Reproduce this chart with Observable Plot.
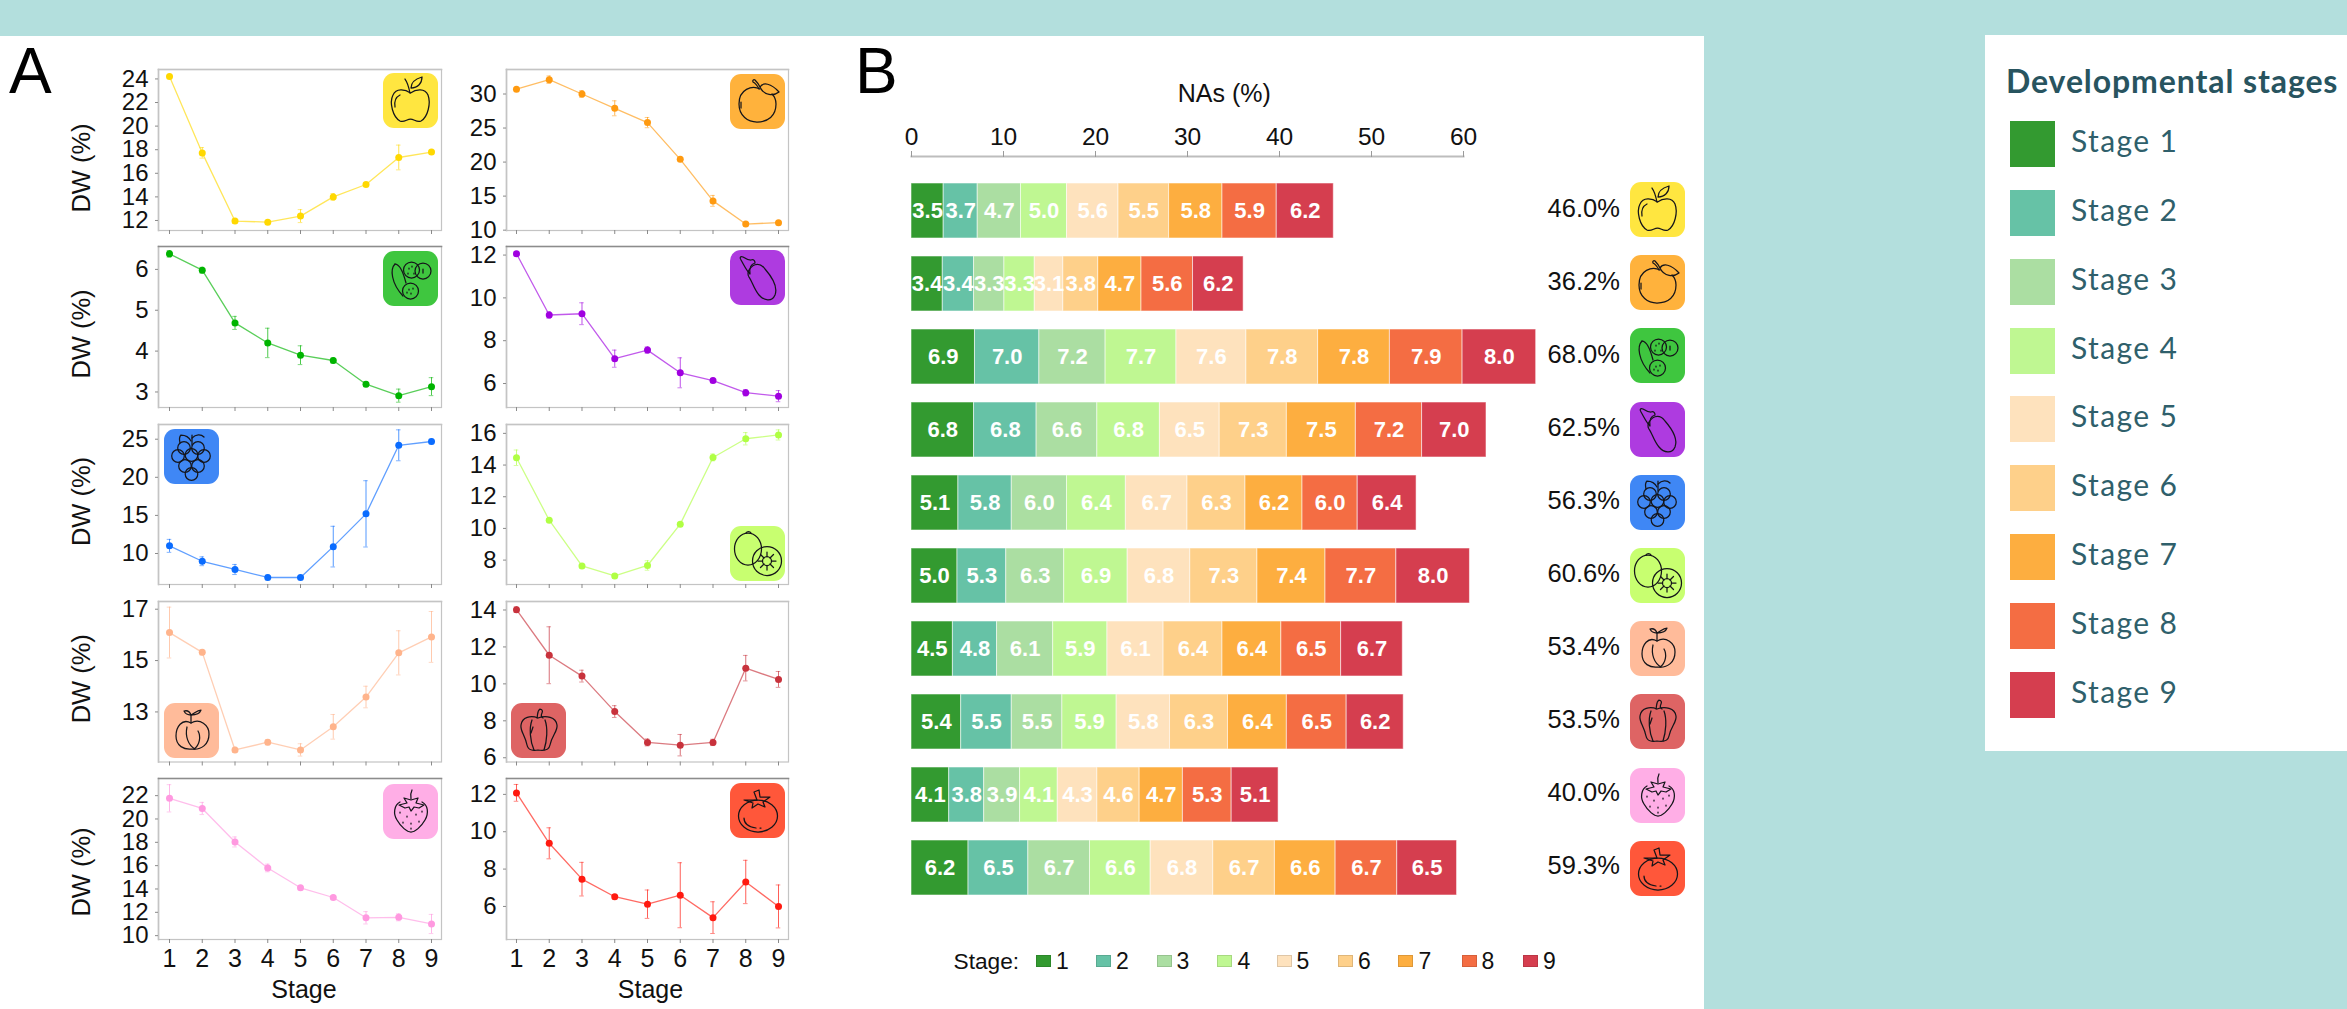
<!DOCTYPE html>
<html>
<head>
<meta charset="utf-8">
<script src="https://cdn.jsdelivr.net/npm/d3@7"></script>
<script src="https://cdn.jsdelivr.net/npm/@observablehq/plot@0.6"></script>
<style>
html,body{margin:0;padding:0;width:2347px;height:1009px;overflow:hidden;background:#b3dfdd;font-family:"Liberation Sans",Arial,sans-serif;}
#page{position:relative;width:2347px;height:1009px;overflow:hidden;}
.abs{position:absolute;}
svg{overflow:visible;}
</style>
</head>
<body>
<div id="page"></div>
<script>
// ---------- Shared categories ----------
const stages = [1,2,3,4,5,6,7,8,9];
const stageColors = ["#339a30","#66c2a6","#abdea2","#bff792","#fee2bd","#fed08a","#fdae40","#f46d43","#d53e4f"];
const fruits = ["Apple","Orange","Cucumber","Eggplant","Grape","Kiwi","Peach","Pepper","Strawberry","Tomato"];

// ---------- Panel A: dry weight (%) mean and error per stage ----------
const dwApple = [24.2,17.73,11.95,11.86,12.37,14.0,15.05,17.34,17.8];
const errApple = [0.1,0.45,0.2,0.15,0.55,0.28,0.15,1.05,0.15];
const dwOrange = [30.7,32.1,30.0,27.9,25.8,20.4,14.3,10.9,11.1];
const errOrange = [0.2,0.55,0.5,1.1,0.75,0.15,0.8,0.2,0.15];
const dwCucumber = [6.38,5.98,4.69,4.2,3.9,3.77,3.19,2.91,3.13];
const errCucumber = [0.08,0.07,0.16,0.36,0.23,0.06,0.06,0.16,0.22];
const dwEggplant = [12.06,9.2,9.26,7.16,7.56,6.5,6.14,5.57,5.41];
const errEggplant = [0.1,0.15,0.51,0.4,0.15,0.7,0.1,0.15,0.26];
const dwGrape = [11.0,8.98,7.9,6.85,6.85,10.9,15.2,24.2,24.7];
const errGrape = [0.85,0.58,0.66,0.3,0.1,2.67,4.35,2.03,0.3];
const dwKiwi = [14.46,10.52,7.63,7.0,7.66,10.27,14.48,15.66,15.9];
const errKiwi = [0.49,0.1,0.12,0.15,0.3,0.1,0.22,0.39,0.32];
const dwPeach = [16.09,15.32,11.52,11.82,11.52,12.42,13.58,15.3,15.92];
const errPeach = [0.99,0.1,0.1,0.1,0.24,0.48,0.42,0.86,0.99];
const dwPepper = [14.02,11.55,10.42,8.5,6.83,6.68,6.83,10.85,10.24];
const errPepper = [0.15,1.54,0.32,0.32,0.19,0.58,0.17,0.69,0.43];
const dwStrawberry = [21.77,20.9,18.03,15.8,14.1,13.27,11.53,11.57,11.0];
const errStrawberry = [1.17,0.52,0.43,0.33,0.15,0.15,0.53,0.3,0.82];
const dwTomato = [12.08,9.38,7.46,6.52,6.12,6.6,5.4,7.31,6.0];
const errTomato = [0.45,0.83,0.9,0.12,0.76,1.74,0.85,1.16,1.15];

// ---------- Panel B: NAs (%) per stage ----------
const naApple = [3.5,3.7,4.7,5.0,5.6,5.5,5.8,5.9,6.2];
const naOrange = [3.4,3.4,3.3,3.3,3.1,3.8,4.7,5.6,5.5];
const naCucumber = [6.9,7.0,7.2,7.7,7.6,7.8,7.8,7.9,8.0];
const naEggplant = [6.8,6.8,6.6,6.8,6.5,7.3,7.5,7.2,7.0];
const naGrape = [5.1,5.8,6.0,6.4,6.7,6.3,6.2,6.0,6.4];
const naKiwi = [5.0,5.3,6.3,6.9,6.8,7.3,7.4,7.7,8.0];
const naPeach = [4.5,4.8,6.1,5.9,6.1,6.4,6.4,6.5,6.7];
const naPepper = [5.4,5.5,5.5,5.9,5.8,6.3,6.4,6.5,6.2];
const naStrawberry = [4.1,3.8,3.9,4.1,4.3,4.6,4.7,5.3,5.1];
const naTomato = [6.2,6.5,6.7,6.6,6.8,6.7,6.6,6.7,6.5];
const naLabelOrange = [3.4,3.4,3.3,3.3,3.1,3.8,4.7,5.6,6.2]; // the printed labels in the orange row
const naTotals = [46.0,36.2,68.0,62.5,56.3,60.6,53.4,53.5,40.0,59.3];

// ---------- Line-drawn fruit icons, 55×55 ----------
const iconBg = {Apple:"#ffe640",Orange:"#ffb23c",Cucumber:"#3fc63f",Eggplant:"#ae3be0",Grape:"#3f87f5",Kiwi:"#c8ff70",Peach:"#ffbb9a",Pepper:"#de6464",Strawberry:"#ffaee6",Tomato:"#ff573a"};
const iconArt = {
  Apple:`<path d="M27.5 20C22 16 13 15 10 22C6 30 10 44 17 48C21 50 24 46 27.5 46C31 46 34 50 38 48C45 44 48 30 45 22C42 15 33 16 27.5 20Z"/><path d="M27 20C26 15 25 10 22 6"/><path d="M28 15C28 10 32 6 39 4C39 10 35 15 28 15Z"/><path d="M12 34C11 28 13 24 17 22"/>`,
  Orange:`<path d="M30 15C22 11 9 15 9 30C9 42 18 48 27 48C38 48 46 42 46 30C46 25 44 22 42 20"/><path d="M30 13C33 8 41 9 49 18C44 22 34 22 30 13Z"/><path d="M29 15C27 11 25 9 23 8C22 6 24 5 25 6C27 8 29 11 30 13"/><path d="M11 28V34"/>`,
  Cucumber:`<circle cx="28.5" cy="19" r="8"/><circle cx="40" cy="20" r="8"/><circle cx="27.5" cy="40" r="8"/><path d="M12 13C7 18 8 32 20 45"/><path d="M12 13C16 13 20 20 23 32"/><path d="M26 17v1M31 22v1M25 22v1M29 15v1M40 18v4M26 38v1M30 37v1M28 42v1M24 41v1"/>`,
  Eggplant:`<path d="M19 20C24 12 31 13 35 19C42 27 48 37 45 45C42 52 34 51 29 45C24 39 22 31 19 27C17 24 18 22 19 20Z"/><path d="M11 10C9 7 11 6 13 7C16 9 18 10 21 10C24 9 25 11 25 13C21 14 19 17 20 24C16 20 14 15 11 10Z"/>`,
  Grape:`<circle cx="20" cy="19" r="6.3"/><circle cx="34" cy="19" r="6.3"/><circle cx="14" cy="27" r="6.3"/><circle cx="27.5" cy="26" r="6.3"/><circle cx="40" cy="27" r="6.3"/><circle cx="21" cy="37" r="6.3"/><circle cx="34" cy="37" r="6.3"/><circle cx="27.5" cy="45" r="6.3"/><path d="M28 6V16"/><path d="M28 9C32 5 37 5 40 8"/><path d="M16 14C15 10 16 7 17 6C21 6 25 8 27 12"/>`,
  Kiwi:`<ellipse cx="18" cy="23" rx="13.5" ry="16"/><path d="M16 7C17 5 20 5 21 7"/><circle cx="37" cy="35" r="14.5"/><circle cx="37" cy="35" r="4.5"/><path d="M37 26V30.5M37 39.5V44M28 35H32.5M41.5 35H46M30.5 28.5L34 32M40 38L43.5 41.5M30.5 41.5L34 38M40 32L43.5 28.5"/>`,
  Peach:`<path d="M27 20C18 15 12 24 12 33C12 43 20 47 28 46C38 47 45 41 45 31C45 22 36 15 27 20Z"/><path d="M23 24C21 33 24 42 31 46"/><path d="M30 46C36 42 37 33 34 28"/><path d="M27 20V12"/><path d="M27 12C22 12 21 10 20 8C24 7 26 9 27 12C31 10 33 7 37 7C36 10 32 12 27 12Z"/>`,
  Pepper:`<path d="M27 15C20 12 11 14 10 22C9 28 14 32 16 42C17 47 22 48 27 47C33 48 38 47 39 42C41 32 47 28 46 22C45 14 35 12 27 15Z"/><path d="M26 15C27 11 26 8 29 6C31 6 32 8 31 10C30 12 30 14 32 15"/><path d="M21 17C18 25 19 38 23 47M34 17C37 25 36 38 33 47M22 24L20 30"/>`,
  Strawberry:`<path d="M17 18C11 21 10 30 14 36C18 43 24 48 28 48C32 48 38 43 42 36C46 29 45 21 39 18"/><path d="M28 16L21 14L24 19L16 21L22 24L26 23L28 27L31 23L36 24L41 21L33 19L35 14Z"/><path d="M28 15C27 11 28 8 29 6"/><path d="M17 28v1M24 32v1M33 30v1M39 27v1M20 38v1M28 39v1M36 37v1M28 44v1"/>`,
  Tomato:`<ellipse cx="28" cy="33" rx="19.5" ry="16"/><path d="M27 17L24 9L29 7L30 14L40 14L33 19L35 24L28 21L22 25L23 20L14 17Z"/><path d="M14 35C14 41 19 44 26 45M30 45h1"/>`
};

const page = document.getElementById("page");
function box(left, top, width, height, css) {
  const d = document.createElement("div");
  d.className = "abs";
  d.style.cssText = `left:${left}px;top:${top}px;width:${width}px;height:${height}px;${css || ""}`;
  page.appendChild(d);
  return d;
}
function label(text, left, top, css) {
  const d = document.createElement("div");
  d.className = "abs";
  d.textContent = text;
  d.style.cssText = `left:${left}px;top:${top}px;white-space:nowrap;${css || ""}`;
  page.appendChild(d);
  return d;
}
function icon(name, left, top) {
  const d = box(left, top, 55, 55, "");
  d.innerHTML = `<svg width="55" height="55" viewBox="0 0 55 55"><rect x="0" y="0" width="55" height="55" rx="11" fill="${iconBg[name]}"/><g fill="none" stroke="#15151a" stroke-width="1.25" stroke-linejoin="round" stroke-linecap="round">${iconArt[name]}</g></svg>`;
}
function place(svg, left, top) {
  svg.style.position = "absolute";
  svg.style.left = left + "px";
  svg.style.top = top + "px";
  svg.style.maxWidth = "none";
  svg.style.height = svg.getAttribute("height") + "px";
  svg.style.background = "transparent";
  page.appendChild(svg);
}

// ---------- White sheets ----------
box(0, 36, 1704, 973, "background:#fff");
box(1985, 35, 362, 716, "background:#fff");

// ---------- Panel A ----------
const panels = [
  {name:"Apple", dw:dwApple, err:errApple, color:"#ffd800", left:158, right:441, top:69, bottom:230, domain:[11.15,24.8], ticks:[12,14,16,18,20,22,24], dw_dy:18, iconAt:[382.5,73], x0:0.664, top_dark:false},
  {name:"Orange", dw:dwOrange, err:errOrange, color:"#ff9a10", left:506, right:788, top:69, bottom:230, domain:[9.95,33.6], ticks:[10,15,20,25,30], iconAt:[729.5,73.5], x0:0.695},
  {name:"Cucumber", dw:dwCucumber, err:errCucumber, color:"#00b400", left:158, right:441, top:246, bottom:407, domain:[2.62,6.56], ticks:[3,4,5,6], dw_dy:7, iconAt:[382.5,250.5], x0:0.664, top_dark:true},
  {name:"Eggplant", dw:dwEggplant, err:errEggplant, color:"#a000e0", left:506, right:788, top:246, bottom:407, domain:[4.88,12.4], ticks:[6,8,10,12], iconAt:[729.5,250], x0:0.695, top_dark:true},
  {name:"Grape", dw:dwGrape, err:errGrape, color:"#0a6cff", left:158, right:441, top:424, bottom:584, domain:[5.93,26.93], ticks:[10,15,20,25], dw_dy:-3, iconAt:[163.5,429], x0:0.664},
  {name:"Kiwi", dw:dwKiwi, err:errKiwi, color:"#b0ff44", left:506, right:788, top:424, bottom:584, domain:[6.46,16.56], ticks:[8,10,12,14,16], iconAt:[729.5,525.5], x0:0.695},
  {name:"Peach", dw:dwPeach, err:errPeach, color:"#ffb48c", left:158, right:441, top:601, bottom:761.5, domain:[11.05,17.3], ticks:[13,15,17], dw_dy:-3, iconAt:[163.5,702.5], x0:0.664},
  {name:"Pepper", dw:dwPepper, err:errPepper, color:"#c8323c", left:506, right:788, top:601, bottom:761.5, domain:[5.77,14.46], ticks:[6,8,10,12,14], iconAt:[510.5,703], x0:0.695},
  {name:"Strawberry", dw:dwStrawberry, err:errStrawberry, color:"#ff99e0", left:158, right:441, top:778, bottom:939, domain:[9.67,23.47], ticks:[10,12,14,16,18,20,22], dw_dy:13, iconAt:[382.5,783.5], x0:0.664, top_dark:true, bottomRow:true},
  {name:"Tomato", dw:dwTomato, err:errTomato, color:"#ff1a10", left:506, right:788, top:778, bottom:939, domain:[4.23,12.85], ticks:[6,8,10,12], iconAt:[729.5,783], x0:0.695, top_dark:true, bottomRow:true}
];

const mL = 100, mR = 10, mT = 10, mB = 70;
panels.forEach(p => {
  const rows = stages.map((s, i) => ({stage: s, dw: p.dw[i], lo: p.dw[i] - p.err[i], hi: p.dw[i] + p.err[i]}));
  const isLeft = p.left === 158;
  const marks = [
    Plot.frame({stroke: "#c4c4c4", strokeWidth: 1.2}),
    Plot.frame({anchor: "left", stroke: "#c4c4c4", strokeWidth: 1.6}),
    Plot.frame({anchor: "top", stroke: p.top_dark ? "#8c8c8c" : "#c4c4c4", strokeWidth: 1.6}),
    Plot.axisY({anchor: "left", ticks: p.ticks, tickFormat: d3.format("d"), tickSize: 3, tickPadding: 7, fontSize: 24, stroke: "#8a8a8a", label: null}),
    p.bottomRow
      ? Plot.axisX({anchor: "bottom", ticks: stages, tickFormat: d3.format("d"), tickSize: 4, tickPadding: 6, fontSize: 25, stroke: "#8a8a8a", label: null})
      : Plot.axisX({anchor: "bottom", ticks: stages, tickSize: 4, stroke: "#8a8a8a", text: null, label: null}),
    Plot.ruleX(rows, {x: "stage", y1: "lo", y2: "hi", stroke: p.color, strokeOpacity: 0.7, strokeWidth: 1}),
    Plot.ruleY(rows, {y: "hi", x1: d => d.stage - 0.07, x2: d => d.stage + 0.07, stroke: p.color, strokeOpacity: 0.5, strokeWidth: 1}),
    Plot.ruleY(rows, {y: "lo", x1: d => d.stage - 0.07, x2: d => d.stage + 0.07, stroke: p.color, strokeOpacity: 0.5, strokeWidth: 1}),
    Plot.line(rows, {x: "stage", y: "dw", stroke: p.color, strokeOpacity: 0.65, strokeWidth: 1.3, curve: "linear"}),
    Plot.dot(rows, {x: "stage", y: "dw", r: 3.5, fill: p.color, stroke: "none"})
  ];
  if (isLeft) {
    marks.push(Plot.text(["DW (%)"], {frameAnchor: "left", textAnchor: "middle", dx: -77, dy: p.dw_dy, rotate: -90, fontSize: 25.5, fill: "#111"}));
  }
  if (p.bottomRow) {
    const mid = (p.left === 158) ? (303.5 - p.left) : (650 - p.left);
    marks.push(Plot.text(["Stage"], {frameAnchor: "bottom-left", dx: mid, dy: 50, lineAnchor: "middle", textAnchor: "middle", fontSize: 25, fill: "#111"}));
  }
  const svg = Plot.plot({
    width: mL + (p.right - p.left) + mR,
    height: mT + (p.bottom - p.top) + mB,
    marginLeft: mL, marginRight: mR, marginTop: mT, marginBottom: mB,
    style: {fontFamily: '"Liberation Sans",Arial,sans-serif', color: "#111"},
    x: {domain: [p.x0, 9.305]},
    y: {domain: p.domain},
    marks
  });
  place(svg, p.left - mL, p.top - mT);
  icon(p.name, p.iconAt[0], p.iconAt[1]);
});

label("A", 9, 31, 'font-family:"Liberation Sans",sans-serif;font-size:64px;line-height:80px;color:#000');
label("B", 855, 31, 'font-family:"Liberation Sans",sans-serif;font-size:64px;line-height:80px;color:#000');

// ---------- Panel B ----------
const naRows = [naApple,naOrange,naCucumber,naEggplant,naGrape,naKiwi,naPeach,naPepper,naStrawberry,naTomato];
const stacked = fruits.flatMap((f, fi) => stages.map((s, si) => ({
  fruit: f, stage: s, value: naRows[fi][si],
  text: (f === "Orange" ? naLabelOrange[si] : naRows[fi][si]).toFixed(1)
})));
const totals = fruits.map((f, i) => ({fruit: f, total: naTotals[i]}));
const bTop = 36, bLeft = 850;
const barSvg = Plot.plot({
  width: 850, height: 900,
  marginLeft: 911 - bLeft, marginRight: 850 - (1463 - bLeft), marginTop: 156 - bTop, marginBottom: 20,
  style: {fontFamily: '"Liberation Sans",Arial,sans-serif', color: "#111"},
  x: {domain: [0, 60]},
  y: {domain: fruits, type: "band", range: [182.3 - bTop, 896.7 - bTop], paddingInner: 0.243, paddingOuter: 0, axis: null},
  color: {domain: stages, range: stageColors, type: "ordinal"},
  marks: [
    Plot.frame({anchor: "top", stroke: "#bdbdbd", strokeWidth: 2}),
    Plot.axisX({anchor: "top", ticks: [0,10,20,30,40,50,60], tickSize: 6, tickPadding: 6, fontSize: 24.5, stroke: "#9a9a9a", label: null}),
    Plot.text(["NAs (%)"], {x: () => 34, frameAnchor: "top", lineAnchor: "middle", dy: -63, fontSize: 25, fill: "#111"}),
    Plot.barX(stacked, {x: "value", y: "fruit", fill: "stage", stroke: "#fff", strokeOpacity: 0.55, strokeWidth: 1}),
    Plot.text(stacked, Plot.stackX({x: "value", y: "fruit", text: "text", fill: "#fff", fontWeight: "bold", fontSize: 22})),
    Plot.text(totals, {x: () => 77, y: "fruit", text: d => d.total.toFixed(1) + "%", textAnchor: "end", dy: -2, fontSize: 25.5, fill: "#111"})
  ]
});
place(barSvg, bLeft, bTop);
fruits.forEach((f, i) => icon(f, 1630, 182 + i * 73.2));

// bottom key of panel B
const keyLefts = [1036,1096,1156.5,1217.4,1276.6,1338,1398.4,1461.5,1523];
label("Stage:", 953.5, 947, "font-size:22.7px;line-height:28px;color:#111");
stages.forEach((s, i) => {
  box(keyLefts[i], 955, 15, 12, `background:${stageColors[i]};outline:1px solid rgba(0,0,0,0.12);outline-offset:-1px`);
  label(String(s), keyLefts[i] + 20, 947, "font-size:23px;line-height:28px;color:#111");
});

// ---------- Right-hand legend ----------
label("Developmental stages", 2006, 60, 'font-family:Lato,sans-serif;font-weight:700;font-size:32px;line-height:42px;color:#28545f;letter-spacing:0.9px');
stages.forEach((s, i) => {
  const y = 121 + i * 68.85;
  box(2009.5, y, 45.5, 46, `background:${stageColors[i]}`);
  label("Stage " + s, 2071, y - 4, 'font-family:Lato,sans-serif;font-size:30px;line-height:46px;color:#2f5f6b;letter-spacing:1.4px');
});
</script>
</body>
</html>
